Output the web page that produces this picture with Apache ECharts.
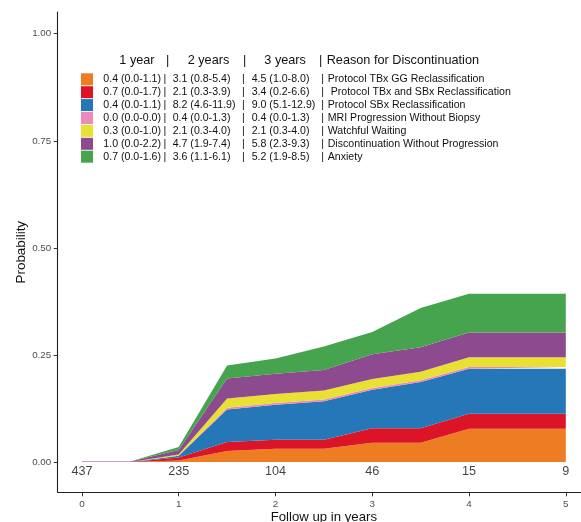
<!DOCTYPE html>
<html>
<head>
<meta charset="utf-8">
<script src="https://cdn.jsdelivr.net/npm/echarts@6/dist/echarts.min.js"></script>
<style>
html,body{margin:0;padding:0;background:#fff;}
#chart{width:581px;height:522px;}
</style>
</head>
<body>
<div id="chart"></div>
<script>
// ---- data ----
const years = [0, 0.5, 1, 1.5, 2, 2.5, 3, 3.5, 4, 5];
const ggReclass   = [0, 0, 0.004, 0.026, 0.031, 0.031, 0.045, 0.045, 0.078, 0.078];
const tbxSbxReclass = [0, 0, 0.007, 0.021, 0.021, 0.021, 0.034, 0.034, 0.035, 0.035];
const sbxReclass  = [0, 0, 0.004, 0.076, 0.082, 0.090, 0.090, 0.108, 0.105, 0.105];
const mriProg     = [0, 0, 0, 0.004, 0.004, 0.004, 0.004, 0.004, 0.004, 0.004];
const watchful    = [0, 0, 0.003, 0.0215, 0.021, 0.021, 0.021, 0.020, 0.0225, 0.0225];
const discNoProg  = [0.0015, 0.0015, 0.010, 0.0465, 0.047, 0.048, 0.058, 0.057, 0.058, 0.058];
const anxiety     = [0, 0, 0.007, 0.0305, 0.036, 0.055, 0.052, 0.092, 0.0905, 0.0905];

const reasons = [
  'Protocol TBx GG Reclassification',
  ' Protocol TBx and SBx Reclassification',
  'Protocol SBx Reclassification',
  'MRI Progression Without Biopsy',
  'Watchful Waiting',
  'Discontinuation Without Progression',
  'Anxiety'
];
const oneYear   = ['0.4 (0.0-1.1)', '0.7 (0.0-1.7)', '0.4 (0.0-1.1)', '0.0 (0.0-0.0)', '0.3 (0.0-1.0)', '1.0 (0.0-2.2)', '0.7 (0.0-1.6)'];
const twoYears  = ['3.1 (0.8-5.4)', '2.1 (0.3-3.9)', '8.2 (4.6-11.9)', '0.4 (0.0-1.3)', '2.1 (0.3-4.0)', '4.7 (1.9-7.4)', '3.6 (1.1-6.1)'];
const threeYears= ['4.5 (1.0-8.0)', '3.4 (0.2-6.6)', '9.0 (5.1-12.9)', '0.4 (0.0-1.3)', '2.1 (0.3-4.0)', '5.8 (2.3-9.3)', '5.2 (1.9-8.5)'];
const colors = ['#EE7C22', '#DC1427', '#2677B8', '#EE89BB', '#E8E134', '#8D4A8E', '#46A34E'];

const riskTimes = [0, 1, 2, 3, 4, 5];
const atRisk = ['437', '235', '104', '46', '15', '9'];
const yTicks = [0, 0.25, 0.5, 0.75, 1];
const xTicks = [0, 1, 2, 3, 4, 5];

const seriesValues = [ggReclass, tbxSbxReclass, sbxReclass, mriProg, watchful, discNoProg, anxiety];
const FONT = "'Liberation Sans', Arial, Helvetica, sans-serif";

const chart = echarts.init(document.getElementById('chart'), null, {renderer: 'canvas'});

// value first so that ECharts stacks on the probability dimension
const areaSeries = seriesValues.map((vals, i) => ({
  name: reasons[i],
  type: 'line',
  stack: 'total',
  symbol: 'none',
  showSymbol: false,
  silent: true,
  dimensions: ['p', 't'],
  encode: {x: 't', y: 'p'},
  lineStyle: {width: 0, color: colors[i]},
  itemStyle: {color: colors[i]},
  areaStyle: {color: colors[i], opacity: 1},
  data: years.map((t, j) => [vals[j], t])
}));

const riskSeries = {
  type: 'scatter',
  name: 'atrisk',
  symbolSize: 1,
  silent: true,
  itemStyle: {color: 'rgba(0,0,0,0)'},
  label: {
    show: true,
    position: 'inside',
    formatter: p => p.value[2],
    fontSize: 12.6,
    color: '#111',
    fontFamily: FONT
  },
  data: riskTimes.map((t, i) => [t, -0.022, atRisk[i]])
};

const option = {
  backgroundColor: '#ffffff',
  animation: false,
  color: colors,
  textStyle: {fontFamily: FONT},
  title: {
    left: 119.3,
    top: 52.5,
    padding: 0,
    text: '{h1|1 year}{hp|\u007c}{h2|2 years}{hp2|\u007c}{h3|3 years}{hp3|\u007c}{h4|Reason for Discontinuation}',
    textStyle: {
      fontSize: 12.7,
      fontWeight: 'normal',
      color: '#111',
      fontFamily: FONT,
      lineHeight: 15,
      rich: {
        h1: {width: 46.7, fontSize: 12.7, color: '#111', fontFamily: FONT},
        hp: {width: 21.7, fontSize: 12.7, color: '#111', fontFamily: FONT},
        h2: {width: 55.3, fontSize: 12.7, color: '#111', fontFamily: FONT},
        hp2: {width: 21.3, fontSize: 12.7, color: '#111', fontFamily: FONT},
        h3: {width: 54.7, fontSize: 12.7, color: '#111', fontFamily: FONT},
        hp3: {width: 7.7, fontSize: 12.7, color: '#111', fontFamily: FONT},
        h4: {fontSize: 12.7, color: '#111', fontFamily: FONT}
      }
    }
  },
  legend: {
    orient: 'vertical',
    left: 81,
    top: 73.3,
    padding: 0,
    icon: 'rect',
    itemWidth: 12,
    itemHeight: 12,
    itemGap: 0.9,
    selectedMode: false,
    data: reasons,
    formatter: name => {
      const i = reasons.indexOf(name);
      return '{s| }{a|' + oneYear[i] + '}{p|\u007c}{b|' + twoYears[i] + '}{p2|\u007c}{c|' + threeYears[i] + '}{p3|\u007c}{d|' + reasons[i] + '}';
    },
    textStyle: {
      fontSize: 10.6,
      color: '#111',
      fontFamily: FONT,
      lineHeight: 12,
      rich: {
        s: {width: 5.3, fontSize: 10.6},
        a: {width: 60.2, fontSize: 10.6, color: '#111', fontFamily: FONT},
        p: {width: 9.2, fontSize: 10.6, color: '#111', fontFamily: FONT},
        b: {width: 69.3, fontSize: 10.6, color: '#111', fontFamily: FONT},
        p2: {width: 9.7, fontSize: 10.6, color: '#111', fontFamily: FONT},
        c: {width: 69.6, fontSize: 10.6, color: '#111', fontFamily: FONT},
        p3: {width: 6.4, fontSize: 10.6, color: '#111', fontFamily: FONT},
        d: {fontSize: 10.6, color: '#111', fontFamily: FONT}
      }
    }
  },
  grid: {left: 57.7, top: 12.1, right: -9, bottom: 29.7, containLabel: false, outerBoundsMode: 'none'},
  xAxis: {
    type: 'value',
    min: -0.25,
    max: 5.25,
    name: 'Follow up in years',
    nameLocation: 'middle',
    nameGap: 19,
    nameMoveOverlap: false,
    nameTextStyle: {fontSize: 13.2, color: '#111', fontFamily: FONT},
    axisLine: {onZero: false, lineStyle: {color: '#222', width: 1.1}},
    axisTick: {show: true, length: 4, customValues: xTicks, lineStyle: {color: '#333', width: 1}},
    axisLabel: {customValues: xTicks, color: '#4D4D4D', fontSize: 9.8, margin: 6.5, fontFamily: FONT},
    splitLine: {show: false}
  },
  yAxis: {
    type: 'value',
    min: -0.0705,
    max: 1.0505,
    name: 'Probability',
    nameLocation: 'middle',
    nameGap: 30,
    nameMoveOverlap: false,
    nameTextStyle: {fontSize: 13.4, color: '#111', fontFamily: FONT},
    axisLine: {show: true, onZero: false, lineStyle: {color: '#222', width: 1.1}},
    axisTick: {show: true, length: 4, customValues: yTicks, lineStyle: {color: '#333', width: 1}},
    axisLabel: {customValues: yTicks, color: '#4D4D4D', fontSize: 9.8, margin: 6.5, fontFamily: FONT,
      formatter: v => v.toFixed(2)},
    splitLine: {show: false}
  },
  series: areaSeries.concat([riskSeries])
};

chart.setOption(option);
</script>
</body>
</html>
